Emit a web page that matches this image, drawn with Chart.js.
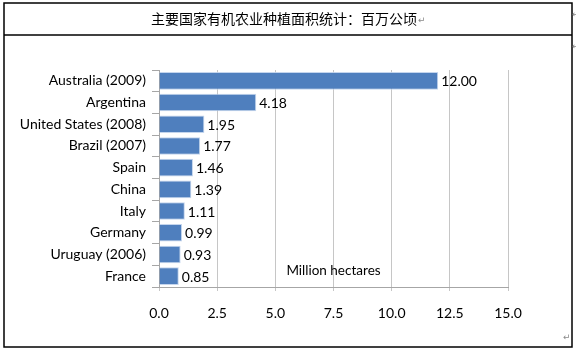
<!DOCTYPE html>
<html>
<head>
<meta charset="utf-8">
<script src="https://cdn.jsdelivr.net/npm/chart.js@4/dist/chart.umd.min.js"></script>
<style>
  html, body { margin: 0; padding: 0; background: #fff; }
  #wrap { width: 576px; height: 350px; }
</style>
</head>
<body>
<div id="wrap"><canvas id="c" width="576" height="350"></canvas></div>
<script>
// Organic farmland by country (million hectares)
const titleText = '主要国家有机农业种植面积统计：百万公顷';
const countries = ['Australia (2009)', 'Argentina', 'United States (2008)', 'Brazil (2007)', 'Spain', 'China', 'Italy', 'Germany', 'Uruguay (2006)', 'France'];
const hectares = [12.00, 4.18, 1.95, 1.77, 1.46, 1.39, 1.11, 0.99, 0.93, 0.85];
const axisMin = 0;
const axisMax = 15;
const axisStep = 2.5;
const unitLabel = 'Million hectares';

const LABEL_FONT = '"Lato", "Open Sans", sans-serif';
const GRID = '#C6C6C6';
const AXIS = '#A6A6A6';

// Outer table frame, header row and paragraph marks
const framePlugin = {
  id: 'frame',
  beforeDraw(chart) {
    const ctx = chart.ctx;
    ctx.save();
    ctx.fillStyle = '#fff';
    ctx.fillRect(0, 0, chart.width, chart.height);
    ctx.restore();
  },
  afterDraw(chart) {
    const ctx = chart.ctx;
    ctx.save();
    ctx.strokeStyle = '#000';
    ctx.lineWidth = 1.5;
    ctx.strokeRect(4, 3, 568, 344);
    ctx.beginPath();
    ctx.moveTo(4, 35);
    ctx.lineTo(572, 35);
    ctx.stroke();

    ctx.font = '14px "Noto Sans CJK SC", sans-serif';
    ctx.fillStyle = '#000';
    ctx.textBaseline = 'middle';
    ctx.textAlign = 'left';
    const w = ctx.measureText(titleText).width;
    const tx = 288 - (w + 8) / 2;
    ctx.fillText(titleText, tx, 19);

    ctx.font = '9px "DejaVu Sans", sans-serif';
    ctx.fillStyle = '#8a8a8a';
    ctx.fillText('↵', tx + w + 1, 21);
    ctx.fillText('↵', 572, 15);
    ctx.fillText('↵', 572, 47);
    ctx.fillText('↵', 563, 338);
    ctx.restore();
  }
};

// Value labels at bar ends and the unit note inside the plot
const valueLabelPlugin = {
  id: 'valueLabels',
  afterDatasetsDraw(chart) {
    const ctx = chart.ctx;
    const meta = chart.getDatasetMeta(0);
    ctx.save();
    ctx.font = '14px ' + LABEL_FONT;
    ctx.fillStyle = '#000';
    ctx.textBaseline = 'middle';
    ctx.textAlign = 'left';
    meta.data.forEach((bar, i) => {
      ctx.fillText(hectares[i].toFixed(2), bar.x + 3, bar.y + 1);
    });
    const xs = chart.scales.x, ys = chart.scales.y;
    ctx.textAlign = 'center';
    ctx.font = '13.5px ' + LABEL_FONT;
    ctx.fillText(unitLabel, xs.getPixelForValue(7.5), ys.getPixelForValue(countries.length - 1) - 6);
    ctx.restore();
  }
};

new Chart(document.getElementById('c'), {
  type: 'bar',
  data: {
    labels: countries,
    datasets: [{
      data: hectares,
      backgroundColor: '#4F7FBE',
      borderColor: 'rgba(190,208,235,0.9)',
      borderWidth: 1,
      barPercentage: 0.81,
      categoryPercentage: 1.0
    }]
  },
  options: {
    indexAxis: 'y',
    responsive: false,
    animation: false,
    layout: { padding: { left: 0, top: 70, right: 68, bottom: 23 } },
    plugins: {
      legend: { display: false },
      tooltip: { enabled: false },
      title: { display: false }
    },
    scales: {
      x: {
        min: axisMin,
        max: axisMax,
        ticks: {
          stepSize: axisStep,
          callback: v => Number(v).toFixed(1),
          color: '#000',
          font: { family: LABEL_FONT, size: 14 },
          padding: 14,
          maxRotation: 0
        },
        grid: { color: GRID, tickLength: 4, lineWidth: 1 },
        border: { color: AXIS, width: 1 },
        afterFit(s) { s.height = 40; }
      },
      y: {
        offset: true,
        ticks: {
          color: '#000',
          font: { family: LABEL_FONT, size: 14 },
          padding: 6,
          autoSkip: false
        },
        grid: { drawOnChartArea: false, color: AXIS, tickLength: 7, offset: true },
        border: { color: AXIS, width: 1 },
        afterFit(s) { s.width = 159; }
      }
    }
  },
  plugins: [framePlugin, valueLabelPlugin]
});
</script>
</body>
</html>
